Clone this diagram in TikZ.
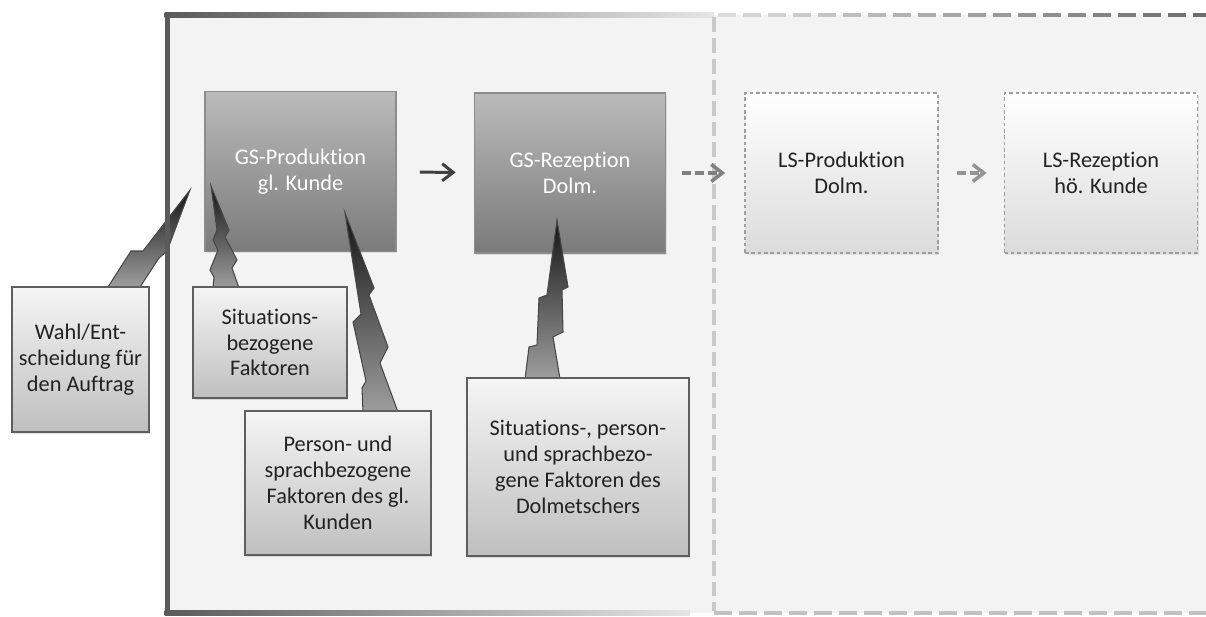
\documentclass[tikz,border=0pt]{standalone}
\usepackage{fontspec}
\setmainfont[Ligatures={NoCommon,NoDiscretionary,NoContextual}]{Carlito}
\usetikzlibrary{arrows.meta, shadows}
\definecolor{cback}{HTML}{F3F3F3}
\definecolor{cframe}{HTML}{5A5A5A}
\definecolor{cdash}{HTML}{C9C9C9}
\definecolor{cborder}{HTML}{5E5E5E}
\definecolor{ctext}{HTML}{222222}
\newcommand\stagefont{\fontsize{12.7}{14.7}\selectfont}
\tikzset{
  every picture/.style={line width=1pt},
  gsbox/.style={draw=black!45, top color=black!27, bottom color=black!52, text=white,
    minimum width=3.82cm, minimum height=3.2cm, align=center, font=\stagefont,
    drop shadow={opacity=0.2, shadow xshift=0.03cm, shadow yshift=-0.04cm}},
  lsbox/.style={draw=black!38, dash pattern=on 2pt off 1.6pt, top color=white, bottom color=black!14,
    text=ctext, minimum width=3.86cm, minimum height=3.2cm, align=center, font=\stagefont,
    drop shadow={opacity=0.15, shadow xshift=0.03cm, shadow yshift=-0.04cm}},
  factor/.style={draw=cborder, line width=1.1pt, top color=black!4, bottom color=black!25,
    text=ctext, align=center, font=\stagefont,
    drop shadow={opacity=0.25, shadow xshift=0.03cm, shadow yshift=-0.04cm}},
  bolt/.style={draw=black!72, line width=0.6pt, top color=black!92, bottom color=black!38},
  flow/.style={-{Straight Barb[length=2.2mm, width=3.4mm]}, draw=black!75, line width=1.7pt},
  dflow/.style={flow, draw=black!50, line width=2pt, dash pattern=on 5pt off 2.4pt},
  dashbar/.style={line width=2.3pt},
}

\begin{document}
\begin{tikzpicture}[x=0.02cm, y=-0.02cm]
  \useasboundingbox (0,0) rectangle (1206,616);
  % grey field of the whole setting
  \fill[cback] (167,15) rectangle (1206,613);
  % decision bolt runs behind the frame line
  \shade[bolt] (108,287) -- (131,251) -- (143,251) -- (190,190) -- (167,251)
    -- (159,258) -- (140,287) -- cycle;
  % solid frame on the left, fading out to the right
  \fill[cframe] (164.5,12.5) rectangle (169.5,615.5);
  \shade[left color=cframe, right color=black!10] (164.5,12.5) rectangle (714,17.5);
  \shade[left color=cframe, right color=black!10] (164.5,610.5) rectangle (690,615.5);
  % dashed part of the frame
  \draw[dashbar, draw=cdash, dash pattern=on 8.5pt off 3.4pt] (714,17) -- (714,611);
  \foreach \i in {0,...,19} {
    \pgfmathsetmacro\tone{14+2.3*\i}
    \draw[dashbar, draw=black!\tone] (718+\i*25,15) -- ++(18,0);
    \draw[dashbar, draw=black!24] (714+\i*25,613) -- ++(18,0);
  }
  % the four stages
  \node[gsbox] (gsprod) at (300.5,171.5) {GS-Produktion\\gl. Kunde};
  \node[gsbox] (gsrez) at (570,173) {GS-Rezeption\\Dolm.};
  \node[lsbox] (lsprod) at (841.5,173) {LS-Produktion\\Dolm.};
  \node[lsbox] (lsrez) at (1101,173) {LS-Rezeption\\hö. Kunde};
  % bolts from the factors to the stages
  \shade[bolt] (211,186) -- (229,230) -- (225,237) -- (237,260) -- (232,268) -- (239,288)
    -- (213,288) -- (214,277) -- (210,270) -- (218,250) -- (213,240) -- (217,230) -- cycle;
  \shade[bolt] (345,213) -- (374,288) -- (369,295) -- (388,347) -- (380,363) -- (398,412)
    -- (363,412) -- (362,388) -- (366,381) -- (353,322) -- (361,314) -- cycle;
  \shade[bolt] (557,220) -- (568,287) -- (562,290) -- (563,332) -- (553,337) -- (560,379)
    -- (525,379) -- (529,347) -- (537,345) -- (539,298) -- (547,295) -- cycle;
  % factors
  \node[factor, minimum width=2.74cm, minimum height=2.9cm] (wahl) at (80.5,359.5)
    {Wahl/Ent-\\scheidung für\\den Auftrag};
  \node[factor, minimum width=3.08cm, minimum height=2.22cm] (situ) at (270,342.5)
    {Situations-\\bezogene\\Faktoren};
  \node[factor, minimum width=3.72cm, minimum height=2.88cm] (kunde) at (338,483)
    {Person- und\\sprachbezogene\\Faktoren des gl.\\Kunden};
  \node[factor, minimum width=4.44cm, minimum height=3.56cm] (dolm) at (578,467)
    {Situations-, person-\\und sprachbezo-\\gene Faktoren des\\Dolmetschers};
  % flow between the stages
  \draw[flow, shorten <=0.46cm, shorten >=0.36cm] (gsprod) -- (gsrez);
  \draw[dflow, shorten <=0.32cm, shorten >=0.38cm] (gsrez) -- (lsprod);
  \draw[dflow, draw=black!42, shorten <=0.36cm, shorten >=0.34cm] (lsprod) -- (lsrez);
\end{tikzpicture}
\end{document}
